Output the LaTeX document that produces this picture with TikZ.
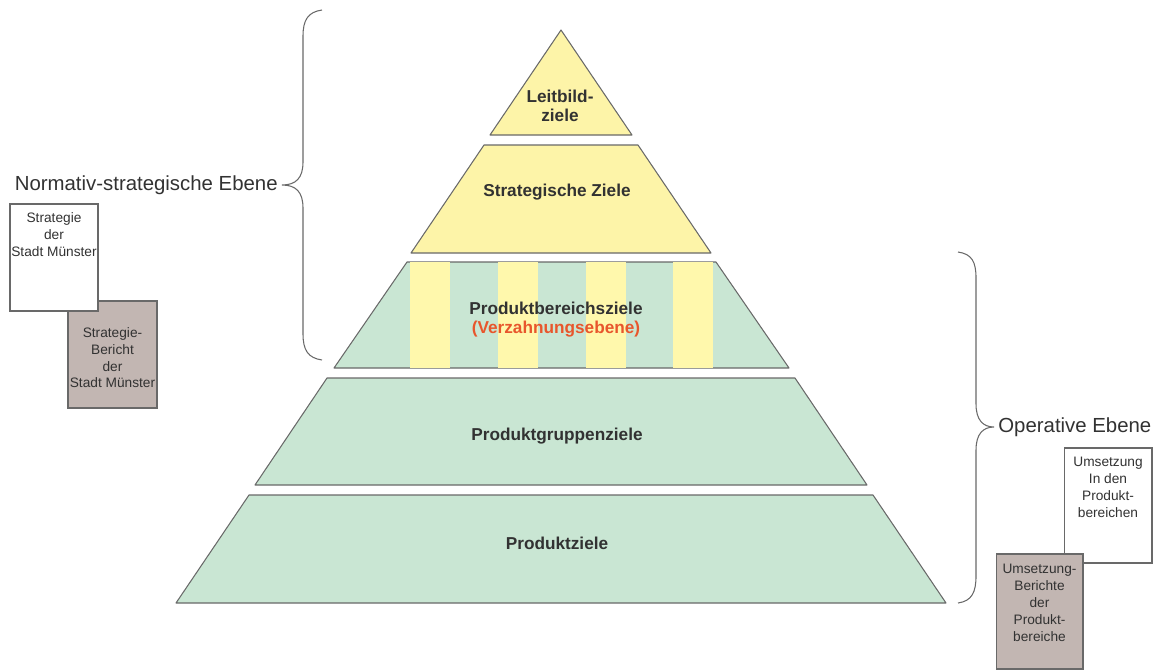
\documentclass[tikz,border=0pt]{standalone}
\usepackage{fontspec}
\setmainfont{Liberation Sans}

\definecolor{paleyellow}{RGB}{253,244,168}
\definecolor{stripeyellow}{RGB}{255,248,172}
\definecolor{palegreen}{RGB}{201,230,211}
\definecolor{taupe}{RGB}{194,182,178}
\definecolor{edgegray}{RGB}{105,105,105}
\definecolor{textgray}{RGB}{50,50,50}
\definecolor{accent}{RGB}{232,86,44}

\tikzstyle{level}=[draw=edgegray,line width=0.6pt,line join=round]
\tikzstyle{level text}=[font=\bfseries\fontsize{9.8}{10.8}\selectfont,text=textgray,align=center]
\tikzstyle{ebene}=[font=\fontsize{11.6}{13}\selectfont,text=textgray,inner sep=0pt]
\tikzstyle{doc}=[rectangle,draw=edgegray,line width=0.6pt,inner sep=0pt]
\tikzstyle{doc text}=[font=\fontsize{7.8}{9.6}\selectfont,text=textgray,align=center,inner sep=0pt,anchor=north]
\tikzstyle{brace}=[draw=edgegray,line width=0.6pt]

\begin{document}
\begin{tikzpicture}[x=0.02cm,y=-0.02cm]
	\useasboundingbox (0,0) rectangle (1158,670);
	% pyramid levels
	\path[level,fill=paleyellow] (561,30) -- (490,135) -- (632,135) -- cycle;
	\path[level,fill=paleyellow] (484,145) -- (638,145) -- (711,253) -- (411,253) -- cycle;
	\path[level,fill=palegreen] (407,262) -- (716,262) -- (789,368) -- (334,368) -- cycle;
	\path[level,fill=palegreen] (327,378) -- (795,378) -- (867,485) -- (255,485) -- cycle;
	\path[level,fill=palegreen] (249,495) -- (873,495) -- (946,603) -- (176,603) -- cycle;
	% stripes of the Verzahnungsebene
	\foreach \sx in {410,498,586,673}
		\fill[stripeyellow] (\sx,262) rectangle (\sx+40,368);
	% level labels
	\node[level text] (leitbild) at (560,106) {Leitbild-\\ziele};
	\node[level text] (strategisch) at (557,192) {Strategische Ziele};
	\node[level text] (bereich) at (556,320) {Produktbereichsziele\\\textcolor{accent}{(Verzahnungsebene)}};
	\node[level text] (gruppe) at (557,436) {Produktgruppenziele};
	\node[level text] (produkt) at (557,543) {Produktziele};
	% braces
	\draw[brace] (322,10) .. controls (308,12) and (303,20) .. (303,36) -- (303,162)
		.. controls (303,178) and (296,185) .. (282,185)
		.. controls (296,185) and (303,192) .. (303,208) -- (303,334)
		.. controls (303,350) and (308,358) .. (322,360);
	\draw[brace] (958,252) .. controls (972,254) and (976,262) .. (976,278) -- (976,404)
		.. controls (976,420) and (983,427) .. (994,427)
		.. controls (983,427) and (976,434) .. (976,450) -- (976,576)
		.. controls (976,592) and (972,601) .. (958,603);
	\node[ebene,anchor=east] (normativ) at (278,185) {Normativ-strategische Ebene};
	\node[ebene,anchor=west] (operativ) at (998,427) {Operative Ebene};
	% documents
	\node[doc,fill=taupe,minimum width=1.78cm,minimum height=2.14cm] (bericht) at (112.5,354.5) {};
	\node[doc,fill=white,minimum width=1.76cm,minimum height=2.14cm] (strategie) at (54,257.5) {};
	\node[doc text] (strategietext) at (54,212) {Strategie\\der\\Stadt Münster};
	\node[doc text] (berichttext) at (112.5,327) {Strategie-\\Bericht\\der\\Stadt Münster};
	\node[doc,fill=white,minimum width=1.76cm,minimum height=2.3cm] (umsetzung) at (1108,505.5) {};
	\node[doc,fill=taupe,minimum width=1.74cm,minimum height=2.3cm] (umsbericht) at (1039.5,611.5) {};
	\node[doc text] (umsetzungtext) at (1108,457) {Umsetzung\\In den\\Produkt-\\bereichen};
	\node[doc text] (umsberichttext) at (1039.5,564) {Umsetzung-\\Berichte\\der\\Produkt-\\bereiche};
\end{tikzpicture}
\end{document}
